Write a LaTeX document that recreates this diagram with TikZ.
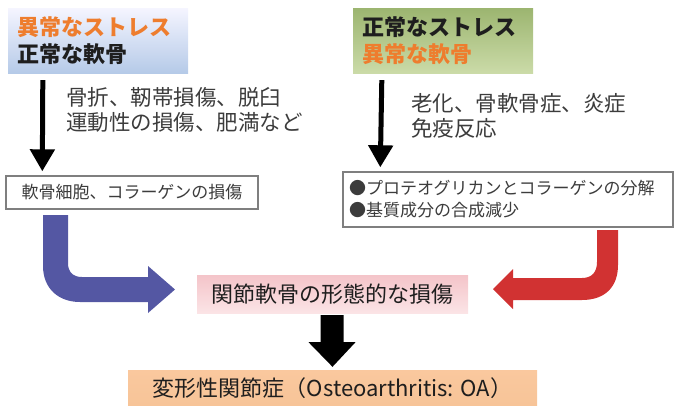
\documentclass[tikz,border=0pt]{standalone}
\usepackage{fontspec}
\setmainfont{Noto Sans CJK JP}
\usetikzlibrary{arrows.meta}
\definecolor{orangetxt}{HTML}{EE7D2E}
\definecolor{bodytxt}{HTML}{3C3C3C}
\definecolor{headtxt}{HTML}{1E1E1E}
\definecolor{bluearr}{HTML}{5457A3}
\definecolor{redarr}{HTML}{D13232}
\definecolor{boxline}{HTML}{7F7F7F}
\tikzset{
  headbox/.style={rectangle, minimum width=180pt, minimum height=65pt, text width=162pt,
    inner xsep=9pt, inner ysep=0pt, align=left, font=\fontsize{22}{27}\selectfont\bfseries},
  causetext/.style={anchor=west, inner sep=0pt, align=left, text=bodytxt,
    font=\fontsize{21.5}{25}\selectfont},
  smallbox/.style={rectangle, draw=boxline, line width=1.4pt, fill=white, inner sep=0pt,
    text=bodytxt, font=\fontsize{17}{22}\selectfont},
  bigbox/.style={rectangle, inner sep=0pt, text=headtxt, font=\fontsize{22}{26}\selectfont},
  thinarrow/.style={line width=5pt, -{Triangle[width=24pt,length=22pt]}},
}
\begin{document}
\begin{tikzpicture}[x=1pt, y=-1pt]
\useasboundingbox (0,0) rectangle (675,405);
% heading boxes
\node[headbox, top color=blue!4!white, bottom color={rgb,255:red,181;green,202;blue,232}] (lhead) at (98,40.5)
  {\textcolor{orangetxt}{異常なストレス}\\\textcolor{headtxt}{正常な軟骨}};
\node[headbox, top color={rgb,255:red,156;green,181;blue,112}, bottom color={rgb,255:red,203;green,219;blue,168}] (rhead) at (443,40.5)
  {\textcolor{headtxt}{正常なストレス}\\\textcolor{orangetxt}{異常な軟骨}};
% cause texts
\node[causetext] (lcause) at (66,109.5) {骨折、靭帯損傷、脱臼\\運動性の損傷、肥満など};
\node[causetext] (rcause) at (411,115.5) {老化、骨軟骨症、炎症\\免疫反応};
% small boxes
\node[smallbox, minimum width=252pt, minimum height=33pt] (lbox) at (132,192.5)
  {軟骨細胞、コラーゲンの損傷};
\node[smallbox, minimum width=330pt, minimum height=55pt, text width=318pt, inner xsep=6pt, align=left] (rbox) at (508,199.5)
  {●プロテオグリカンとコラーゲンの分解\\●基質成分の合成減少};
% thin arrows
\draw[thinarrow] ([shift={(35,7)}]lhead.south west) -- ([shift={(37,-4)}]lbox.north west);
\draw[thinarrow] ([shift={(29,7)}]rhead.south west) -- ([shift={(38,-4)}]rbox.north west);
% middle boxes
\node[bigbox, minimum width=271pt, minimum height=38pt, top color={rgb,255:red,244;green,196;blue,201}, bottom color={rgb,255:red,251;green,228;blue,230}] (damage) at (332.5,294)
  {関節軟骨の形態的な損傷};
\node[bigbox, minimum width=409pt, minimum height=36pt, top color={rgb,255:red,250;green,200;blue,158}, bottom color={rgb,255:red,247;green,196;blue,152}] (oa) at (332.5,388)
  {変形性関節症（Osteoarthritis: OA）};
% bent block arrows
\fill[bluearr] (68,215) -- (68,263) .. controls (68,272) and (73,277) .. (82,277)
  -- (148,277) -- (148,266) -- (175,289.5) -- (148,313) -- (148,302) -- (80,302)
  .. controls (58,302) and (43,288) .. (43,266) -- (43,215) -- cycle;
\fill[redarr] (597,230) -- (597,262) .. controls (597,272) and (592,278) .. (582,278)
  -- (513,278) -- (513,269) -- (493,289) -- (513,309) -- (513,300) -- (582,300)
  .. controls (605,300) and (618,287) .. (618,265) -- (618,230) -- cycle;
% block arrow down
\fill[black] ([shift={(-12,2)}]damage.south) -- ([shift={(11,2)}]damage.south)
  -- ([shift={(11,29)}]damage.south) -- ([shift={(23,29)}]damage.south)
  -- ([yshift=3pt]oa.north)
  -- ([shift={(-24,29)}]damage.south) -- ([shift={(-12,29)}]damage.south) -- cycle;
\end{tikzpicture}
\end{document}
